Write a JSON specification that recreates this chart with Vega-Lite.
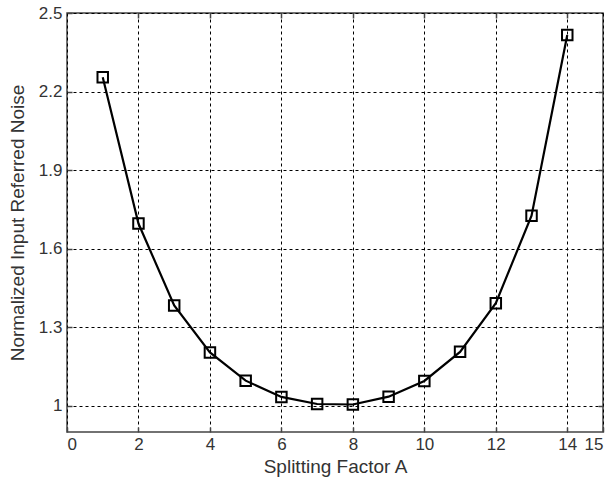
{
  "$schema": "https://vega.github.io/schema/vega-lite/v6.json",
  "autosize": {"type": "none"},
  "padding": {"left": 67, "top": 13, "right": 5, "bottom": 55},
  "width": 536,
  "height": 419,
  "background": "white",
  "config": {
    "font": "Liberation Sans",
    "view": {"stroke": "#444", "strokeWidth": 1.5},
    "axis": {
      "labelFont": "Liberation Sans",
      "titleFont": "Liberation Sans",
      "labelFontSize": 17,
      "titleFontSize": 19,
      "titleFontWeight": "normal",
      "labelColor": "#333",
      "titleColor": "#333",
      "domain": false,
      "tickColor": "#444",
      "tickSize": -5,
      "tickWidth": 1.5,
      "gridColor": "#000",
      "gridOpacity": 1,
      "gridDash": [3, 3],
      "gridWidth": 1
    }
  },
  "data": {
    "values": [
      {"A": 1, "noise": 2.255},
      {"A": 2, "noise": 1.696},
      {"A": 3, "noise": 1.383},
      {"A": 4, "noise": 1.204},
      {"A": 5, "noise": 1.096},
      {"A": 6, "noise": 1.034},
      {"A": 7, "noise": 1.007},
      {"A": 8, "noise": 1.005},
      {"A": 9, "noise": 1.035},
      {"A": 10, "noise": 1.095},
      {"A": 11, "noise": 1.206},
      {"A": 12, "noise": 1.392},
      {"A": 13, "noise": 1.726},
      {"A": 14, "noise": 2.416}
    ]
  },
  "layer": [
    {
      "mark": {"type": "line", "color": "#000", "strokeWidth": 2.2},
      "encoding": {
        "x": {
          "field": "A", "type": "quantitative",
          "scale": {"domain": [0, 15], "nice": false, "zero": false},
          "axis": {"values": [0, 2, 4, 6, 8, 10, 12, 14, 15], "title": "Splitting Factor A", "labelPadding": 9, "titlePadding": 5, "grid": true}
        },
        "y": {
          "field": "noise", "type": "quantitative",
          "scale": {"domain": [0.9, 2.5], "nice": false, "zero": false},
          "axis": {"values": [1, 1.3, 1.6, 1.9, 2.2, 2.5], "format": ".1~f", "title": "Normalized Input Referred Noise", "labelPadding": 10, "titlePadding": 11, "grid": true}
        }
      }
    },
    {
      "mark": {"type": "point", "shape": "square", "filled": false, "stroke": "#000", "strokeWidth": 2, "size": 110, "opacity": 1},
      "encoding": {
        "x": {"field": "A", "type": "quantitative", "axis": {"orient": "top", "values": [2, 4, 6, 8, 10, 12, 14], "labels": false, "title": null, "grid": false}},
        "y": {"field": "noise", "type": "quantitative", "axis": {"orient": "right", "values": [1, 1.3, 1.6, 1.9, 2.2], "labels": false, "title": null, "grid": false}}
      }
    }
  ],
  "resolve": {"axis": {"x": "independent", "y": "independent"}}
}
